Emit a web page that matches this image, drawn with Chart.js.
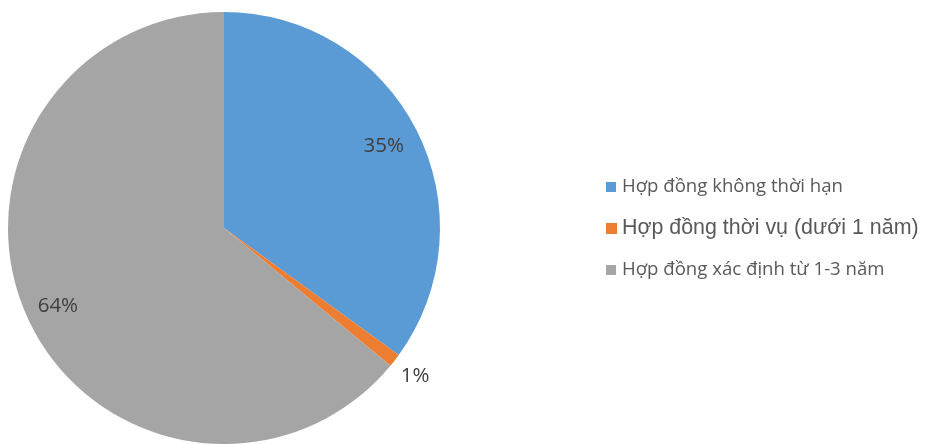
<!DOCTYPE html>
<html>
<head>
<meta charset="utf-8">
<script src="https://cdn.jsdelivr.net/npm/chart.js@4"></script>
<style>
  html, body { margin: 0; padding: 0; background: #fff; }
  #wrap { width: 925px; height: 444px; position: relative; }
</style>
</head>
<body>
<div id="wrap"><canvas id="myChart" width="925" height="444"></canvas></div>
<script>
const labels = ['Hợp đồng không thời hạn', 'Hợp đồng thời vụ (dưới 1 năm)', 'Hợp đồng xác định từ 1-3 năm'];
const values = [35, 1, 64];
const colors = ['#5B9BD5', '#ED7D31', '#A5A5A5'];
// legend font sizes (the middle one is bigger in the original)
const legendSizes = [18.6, 21.4, 18.6];
// where each percent label sits, as a fraction of the radius
const labelRadius = [0.83, 1.12, 0.85];

// draw the % labels on/near the slices
const pctLabels = {
  id: 'pctLabels',
  afterDatasetsDraw(chart) {
    const ctx = chart.ctx;
    const meta = chart.getDatasetMeta(0);
    const total = values.reduce((a, b) => a + b, 0);
    ctx.save();
    ctx.font = '20.5px "Open Sans", Lato, sans-serif';
    ctx.fillStyle = '#404040';
    ctx.textAlign = 'center';
    ctx.textBaseline = 'middle';
    meta.data.forEach((arc, i) => {
      const mid = (arc.startAngle + arc.endAngle) / 2;
      const r = arc.outerRadius * labelRadius[i];
      const x = arc.x + Math.cos(mid) * r;
      const y = arc.y + Math.sin(mid) * r;
      ctx.fillText(Math.round(values[i] / total * 100) + '%', x, y);
    });
    ctx.restore();
  }
};

// legend on the right, drawn by hand so each item can have its own size
const sideLegend = {
  id: 'sideLegend',
  afterDraw(chart) {
    const ctx = chart.ctx;
    const meta = chart.getDatasetMeta(0);
    const cy = meta.data[0].y;
    const x0 = chart.chartArea.right + 166;
    const gap = 41.5;
    ctx.save();
    ctx.textBaseline = 'middle';
    labels.forEach((lab, i) => {
      const y = cy - 41 + i * gap;
      const sq = i == 1 ? 11 : 10;
      ctx.fillStyle = colors[i];
      ctx.fillRect(x0, y - sq / 2, sq, sq);
      ctx.font = legendSizes[i] + 'px ' + (i == 1 ? '"Liberation Sans", Arial, sans-serif' : '"Open Sans", Lato, sans-serif');
      ctx.fillStyle = '#595959';
      ctx.fillText(lab, x0 + 16, y);
    });
    ctx.restore();
  }
};

const data = {
  labels: labels,
  datasets: [{
    data: values,
    backgroundColor: colors,
    borderWidth: 0
  }]
};

const config = {
  type: 'pie',
  data,
  options: {
    responsive: false,
    animation: false,
    layout: { padding: { top: 12, left: 8, right: 485, bottom: 0 } },
    plugins: {
      legend: { display: false },
      tooltip: { enabled: false }
    }
  },
  plugins: [pctLabels, sideLegend]
};

const myChart = new Chart(document.getElementById('myChart'), config);
</script>
</body>
</html>
